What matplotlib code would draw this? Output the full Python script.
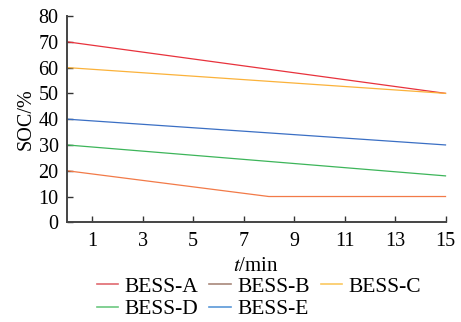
#!/usr/bin/env python3
# SOC of five battery storage units over 15 minutes

import matplotlib.pyplot as plt
from matplotlib.lines import Line2D

# ---------- DATA ----------
names = ['BESS-A', 'BESS-B', 'BESS-C', 'BESS-D', 'BESS-E']
t_a = [0, 15]
soc_a = [70, 50]
t_b = [0, 8, 15]
soc_b = [20, 10, 10]
t_c = [0, 15]
soc_c = [60, 50]
t_d = [0, 15]
soc_d = [30, 18]
t_e = [0, 15]
soc_e = [40, 30]
xticks = [1, 3, 5, 7, 9, 11, 13, 15]
yticks = [0, 10, 20, 30, 40, 50, 60, 70, 80]

line_colors = ['#e8323c', '#f27a48', '#fbb23a', '#3db55a', '#3a6fc4']
legend_colors = ['#e06a70', '#a8887a', '#fbc860', '#6cc880', '#5a98d8']

# ---------- PLOT ----------
plt.rcParams['font.family'] = ['Liberation Serif', 'DejaVu Serif']
plt.rcParams['mathtext.fontset'] = 'stix'

fig = plt.figure(figsize=(4.61, 3.22), dpi=100)
ax = fig.add_axes([0.1453, 0.3096, 0.8211, 0.6407])

series = [(t_a, soc_a), (t_b, soc_b), (t_c, soc_c), (t_d, soc_d), (t_e, soc_e)]
for (t, s), c in zip(series, line_colors):
    ax.plot(t, s, color=c, lw=0.9, clip_on=False)

ax.set_xlim(0, 15)
ax.set_ylim(0, 80)
ax.set_xticks(xticks)
ax.set_yticks(yticks)
ax.tick_params(direction='in', length=4, width=1, labelsize=14.5,
               color='#333333')
ax.tick_params(axis='x', pad=7)
ax.tick_params(axis='y', pad=6)
for side in ['top', 'right']:
    ax.spines[side].set_visible(False)
for side in ['left', 'bottom']:
    ax.spines[side].set_linewidth(1.4)
    ax.spines[side].set_color('#444444')

ax.set_xlabel('$t$/min', fontsize=15, labelpad=4)
ax.set_ylabel('SOC/%', fontsize=14.5, labelpad=2)

# legend fills column by column, so reorder to read A B C / D E row-wise
order = [0, 3, 1, 4, 2]
handles = [Line2D([], [], color=legend_colors[i], lw=1.2) for i in order]
labels = [names[i] for i in order]
fig.legend(handles, labels, loc='upper center', bbox_to_anchor=(0.562, 0.174),
           ncol=3, frameon=False, fontsize=15.5, handlelength=1.0,
           handletextpad=0.3, columnspacing=0.5, labelspacing=0.12,
           borderpad=0)

fig.savefig('out.png', dpi=100)
